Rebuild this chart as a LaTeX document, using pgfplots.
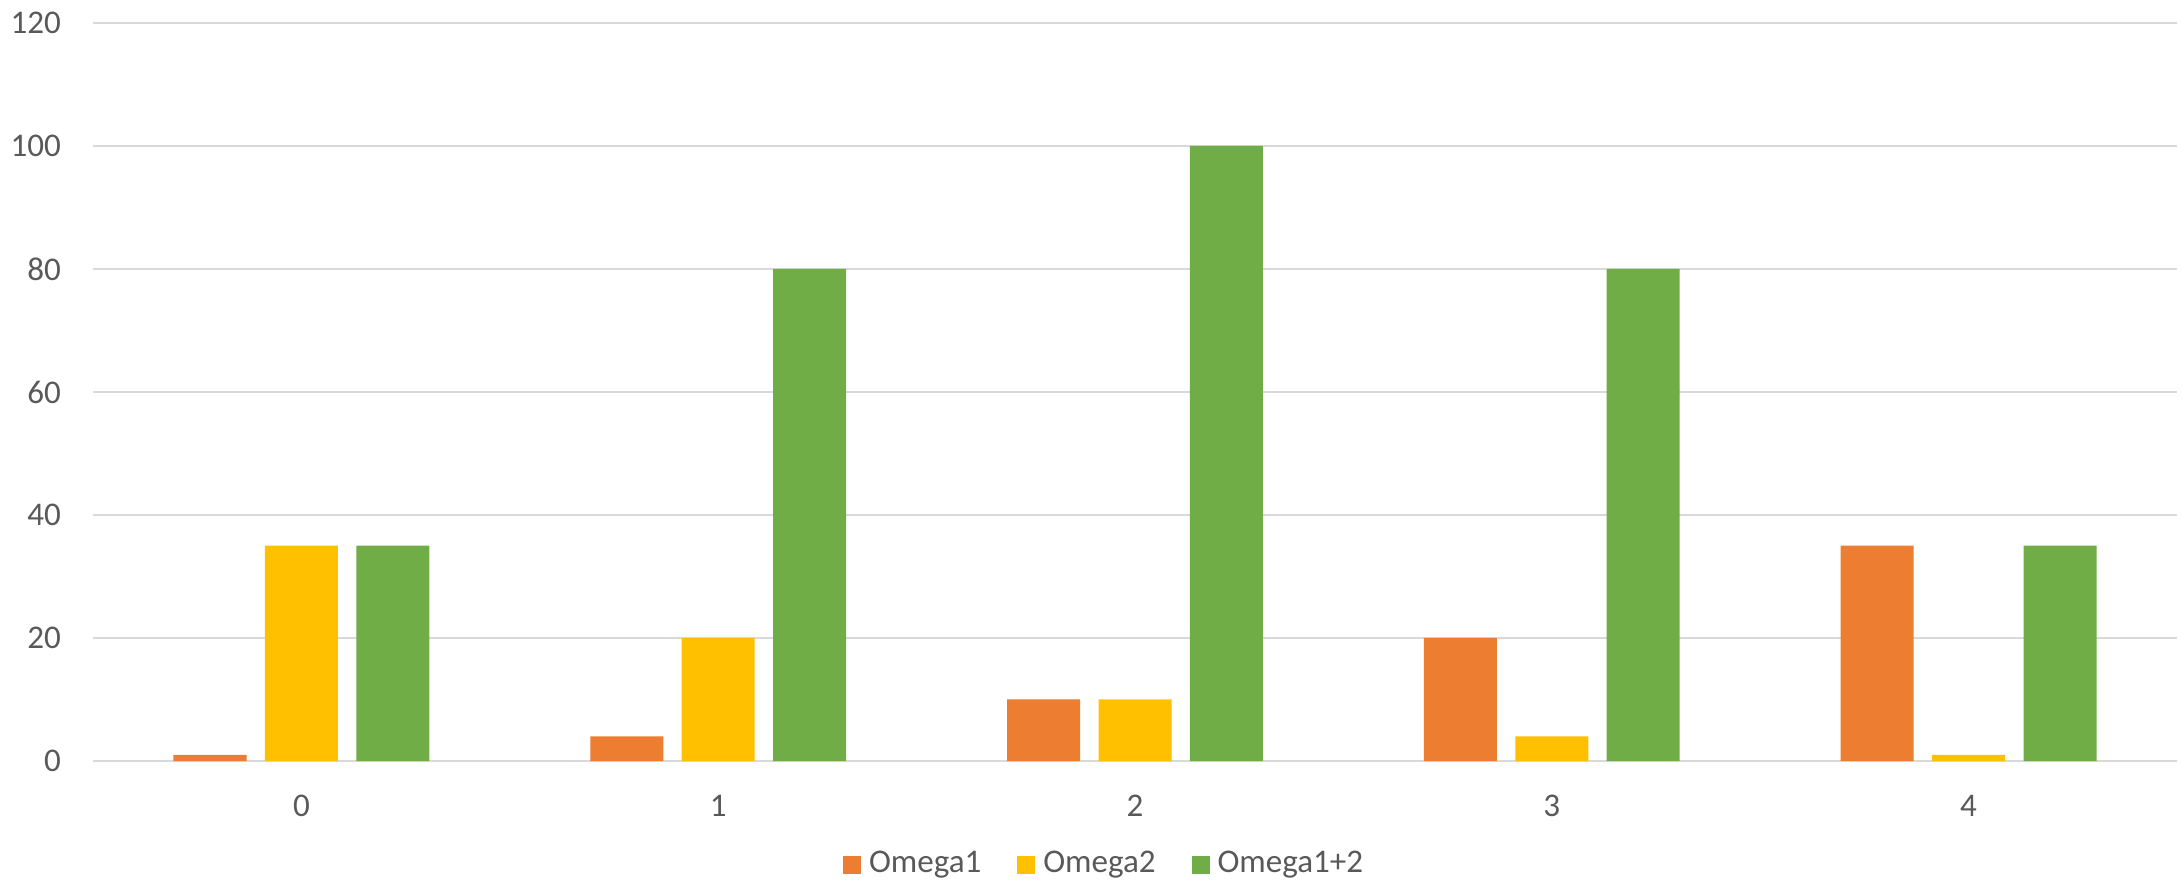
\documentclass[border=0pt]{standalone}
\usepackage{pgfplots}
\pgfplotsset{compat=1.18}
\usepackage{fontspec}
\setmainfont{Carlito}
\definecolor{oOrange}{HTML}{ED7D31}
\definecolor{oYellow}{HTML}{FFC000}
\definecolor{oGreen}{HTML}{70AD47}
\definecolor{gridgray}{HTML}{D9D9D9}
\definecolor{txtgray}{HTML}{595959}
\begin{document}
\begin{tikzpicture}
\useasboundingbox (0,0) rectangle (545.75bp,220bp);
\begin{axis}[
  at={(23.25bp,29.75bp)}, anchor=south west,
  scale only axis, width=521bp, height=184.5bp,
  xmin=-0.5, xmax=4.5, ymin=0, ymax=120,
  ytick={0,20,...,120},
  xtick={0,1,2,3,4},
  axis line style={draw=none},
  major tick length=0pt,
  ymajorgrids, grid style={gridgray, line width=0.45bp},
  font=\fontsize{8.3}{10}\selectfont,
  tick label style={text=txtgray},
  yticklabel style={xshift=-4.5bp},
  xticklabel style={yshift=-5bp},
  /pgf/number format/assume math mode=true,
  ybar=4.6bp, bar width=18.25bp,
  legend columns=3,
  legend style={at={(0.4866,-0.141)}, anchor=center, draw=none, fill=none,
    text=txtgray, font=\fontsize{8.3}{10}\selectfont,
    /tikz/every even column/.append style={column sep=7bp}},
  legend image code/.code={\fill[#1] (0bp,-2.25bp) rectangle (4.5bp,2.25bp);},
  clip=false,
]
\addplot[fill=oOrange, draw=none] coordinates {(0,1) (1,4) (2,10) (3,20) (4,35)};
\addplot[fill=oYellow, draw=none] coordinates {(0,35) (1,20) (2,10) (3,4) (4,1)};
\addplot[fill=oGreen, draw=none] coordinates {(0,35) (1,80) (2,100) (3,80) (4,35)};
\legend{Omega1, Omega2, Omega1+2}
\end{axis}
\end{tikzpicture}
\end{document}
